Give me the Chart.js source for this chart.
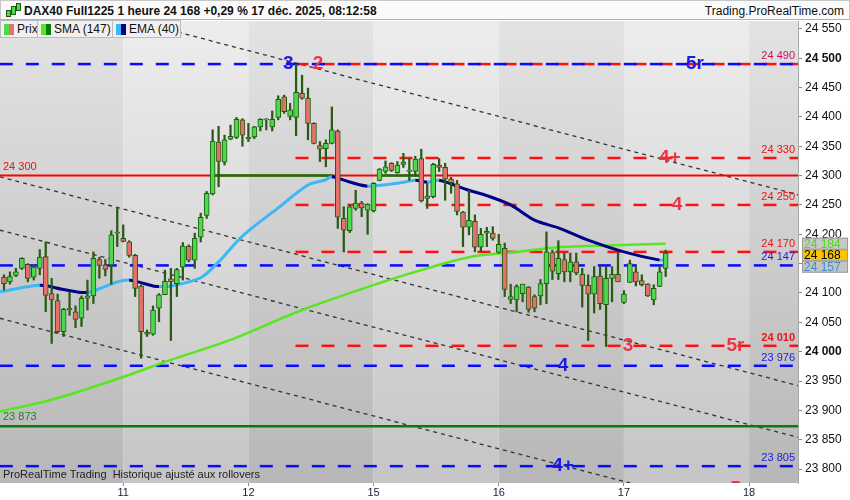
<!DOCTYPE html>
<html>
<head>
<meta charset="utf-8">
<script src="https://cdn.jsdelivr.net/npm/chart.js@4.4.1/dist/chart.umd.min.js"></script>
<style>
  body { margin: 0; background: #fff; font-family: "Liberation Sans", Arial, sans-serif; }
  #wrap { position: relative; width: 850px; height: 500px; overflow: hidden; }
  #c { position: absolute; left: 0; top: 0; }
  .hdr { position: absolute; left: 0; top: 0; width: 848px; height: 20px; background: #fafafa;
         border: 1px solid #c8c8c8; border-bottom-color: #b0b0b0; box-sizing: border-box; width: 850px; }
  .hdr .title { position: absolute; left: 23px; top: 3px; font-size: 12px; font-weight: bold; color: #111; }
  .hdr .site { position: absolute; right: 5px; top: 3px; font-size: 12px; color: #111; }
  .ic { position: absolute; width: 3px; background: #4cd94c; border: 1px solid #1f5c12; }
  .leg { position: absolute; top: 20px; height: 18px; box-sizing: border-box; background: #f0f0f0;
         border: 1px solid #bcbcbc; font-size: 12px; color: #111; line-height: 16px; padding-left: 16px; }
  .sw { position: absolute; left: 3px; top: 3px; width: 5px; height: 11px; }
  .sw2 { position: absolute; left: 8px; top: 3px; width: 5px; height: 11px; }
  .foot { position: absolute; left: 3px; top: 468px; font-size: 11px; color: #222; white-space: pre; }
</style>
</head>
<body>
<div id="wrap">
  <canvas id="c" width="850" height="500"></canvas>
  <div class="hdr">
    <span class="ic" style="left:5px;top:9px;height:5px"></span>
    <span class="ic" style="left:10px;top:5px;height:7px"></span>
    <span class="ic" style="left:15px;top:2px;height:6px"></span>
    <span class="title">DAX40 Full1225 1 heure 24 168 +0,29 % 17 déc. 2025, 08:12:58</span>
    <span class="site">Trading.ProRealTime.com</span>
  </div>
  <div class="leg" style="left:0;width:38px"><span class="sw" style="background:#4cd94c"></span><span class="sw2" style="background:#e8706a"></span>Prix</div>
  <div class="leg" style="left:37px;width:76px"><span class="sw" style="background:#58e620"></span><span class="sw2" style="background:#0a7a0a"></span>SMA (147)</div>
  <div class="leg" style="left:112px;width:69px"><span class="sw" style="background:#3cb8f5"></span><span class="sw2" style="background:#000088"></span>EMA (40)</div>
  <div class="foot">ProRealTime Trading  Historique ajusté aux rollovers</div>
</div>
<script>
// hourly candles, 10 -> 17 dec (index 0 = first visible candle)
const opens = [24127,24119,24130,24142,24149,24127,24142,24162,24099,24087,24034,24074,24068,24057,24091,24095,24157,24148,24148,24202,
  24193,24187,24164,24112,24033,24030,24074,24097,24124,24116,24144,24180,24156,24195,24232,24269,24357,24323,24362,24365,24395,
  24363,24366,24383,24395,24383,24399,24434,24401,24399,24440,24432,24389,24351,24346,24355,24376,24227,24206,24244,24253,24241,
  24240,24292,24307,24321,24305,24319,24307,24307,24329,24261,24264,24318,24314,24294,24286,24238,24212,24222,24178,24202,24202,
  24169,24176,24089,24088,24099,24110,24094,24095,24116,24169,24133,24157,24136,24153,24132,24113,24098,24129,24080,24125,24132,
  24084,24118,24136,24121,24115,24088,24111,24142];
const highs = [24131,24136,24142,24160,24150,24148,24174,24187,24125,24098,24074,24102,24078,24095,24122,24170,24161,24157,24206,24246,
  24216,24189,24166,24114,24037,24078,24099,24139,24142,24142,24186,24182,24202,24236,24273,24378,24384,24369,24386,24399,24397,
  24389,24384,24397,24397,24410,24436,24437,24423,24490,24471,24449,24390,24358,24361,24417,24378,24247,24250,24275,24256,24252,
  24288,24312,24325,24322,24324,24338,24329,24333,24345,24287,24321,24329,24321,24297,24292,24239,24275,24233,24210,24212,24213,
  24200,24185,24115,24114,24115,24111,24097,24123,24204,24173,24189,24168,24168,24168,24142,24131,24145,24145,24145,24145,24168,
  24104,24156,24145,24131,24116,24114,24145,24173];
const lows = [24105,24115,24128,24140,24119,24122,24131,24068,24014,24032,24026,24062,24041,24043,24071,24082,24125,24129,24115,24179,
  24187,24161,24094,23989,24026,24028,24051,24097,24019,24094,24122,24153,24142,24187,24227,24267,24281,24318,24361,24363,24350,
  24358,24363,24376,24378,24376,24395,24406,24395,24368,24430,24361,24354,24324,24315,24354,24210,24170,24203,24241,24230,24200,
  24238,24291,24304,24307,24304,24314,24292,24299,24255,24244,24262,24307,24258,24270,24233,24179,24199,24170,24171,24179,24190,
  24168,24094,24082,24068,24085,24067,24068,24080,24082,24123,24123,24119,24119,24131,24076,24019,24066,24072,24009,24085,24119,
  24082,24118,24112,24112,24094,24080,24111,24128];
const closes = [24116,24128,24136,24159,24125,24144,24161,24096,24088,24034,24072,24071,24055,24091,24095,24159,24147,24140,24199,24204,
  24188,24164,24108,24034,24030,24071,24097,24120,24119,24140,24180,24156,24193,24229,24270,24359,24324,24361,24367,24396,24369,
  24365,24383,24396,24396,24396,24430,24409,24412,24442,24432,24389,24355,24345,24355,24378,24229,24207,24247,24253,24245,24251,
  24287,24311,24315,24309,24318,24323,24309,24328,24257,24265,24319,24314,24294,24288,24239,24212,24224,24178,24200,24205,24193,
  24183,24106,24094,24111,24115,24072,24074,24116,24170,24137,24159,24136,24153,24134,24113,24098,24128,24082,24125,24132,24119,
  24098,24150,24119,24114,24095,24108,24136,24168];

// x axis: first candle of each day
const dayTicks = [20, 41, 62, 83, 104, 125];
const dayLabels = ['11', '12', '15', '16', '17', '18'];
const bandEdges = [-5, 20, 41, 62, 83, 104, 125, 140];
const yTicks = [23800, 23850, 23900, 23950, 24000, 24050, 24100, 24150, 24200, 24250, 24300, 24350, 24400, 24450, 24500, 24550];

// indicators
const smaX = [-0.7, 8, 18, 28, 38, 50, 63, 70, 78, 84, 86, 93, 98, 105, 111];
const smaY = [23898, 23918, 23950, 23986, 24020, 24071, 24117, 24139, 24161, 24168, 24170, 24178, 24180, 24182, 24184];
const emaX = [-0.7, 6, 10, 14, 19, 21, 25, 26, 28, 33, 36, 40, 46, 51, 54, 55, 58, 61, 66, 69, 71, 73, 78, 81, 85, 89, 93, 98, 104, 110, 111];
const emaY = [24102, 24113, 24106, 24101, 24119, 24122, 24112, 24111, 24112, 24126, 24153, 24197, 24245, 24284, 24293, 24298, 24289, 24282,
  24287, 24292, 24289, 24292, 24275, 24266, 24250, 24224, 24211, 24190, 24170, 24156, 24157];

// drawn levels
const blueLevels = [24490, 24147, 23976, 23805];
const redLevels = [24490, 24330, 24250, 24170, 24010];
const redLevelStart = 48.9;
const redSolid = 24300;
const greenSolid = 23873;
const greenSegStart = [34.7, 62.8];
const greenSegEnd = [55.2, 69.8];
const trendX = [-0.7, 133.3];
const trendStart = [24624, 24298, 24207, 24057];
const trendEnd = [24267, 23942, 23854, 23701];

const waveText = ['3', '2', '5r', '4+', '4', '3', '5r', '4', '4+', '5'];
const waveX = [47.7, 52.7, 115.9, 111.7, 112.9, 104.7, 122.7, 93.8, 93.8, 122.7];
const waveY = [24490, 24490, 24490, 24330, 24250, 24010, 24010, 23976, 23805, 23767];
const waveBlue = [true, false, true, false, false, false, false, true, true, false];

const rightLabels = [24490, 24330, 24250, 24170, 24147, 24010, 23976, 23805];
const rightColors = ['#cc1060', '#ee1111', '#ee1111', '#ee1111', '#1a1ae6', '#ee1111', '#1a1ae6', '#1a1ae6'];
const leftLabels = [24300, 23873];
const leftColors = ['#ee1111', '#1a8a1a'];

const lastValues = [24184, 24168, 24157];
const lastFill = ['#c8c8c8', '#f7c600', '#c4c4c4'];
const lastText = ['#44e011', '#000', '#3a8fd0'];

const fmt = v => String(Math.round(v)).replace(/\B(?=(\d{3})+$)/, ' ');
const FONT = '"Liberation Sans", Arial, sans-serif';
Chart.defaults.font.family = FONT;

const idx = opens.map((_, i) => i);
const datasets = [];

datasets.push({
  type: 'bar', label: 'body', order: 0, grouped: false,
  data: idx.map(i => ({ x: i, y: [opens[i], closes[i]] })),
  backgroundColor: idx.map(i => closes[i] >= opens[i] ? '#4cd94c' : '#e8706a'),
  borderColor: '#1f5c12', borderWidth: 1, borderSkipped: false,
  barThickness: 5, minBarLength: 1
});
datasets.push({
  type: 'bar', label: 'wick', order: 1, grouped: false,
  data: idx.map(i => ({ x: i, y: [lows[i], highs[i]] })),
  backgroundColor: '#2a5a14', barThickness: 1.6
});
datasets.push({
  type: 'line', label: 'EMA (40)', order: 2,
  data: emaX.map((x, i) => ({ x, y: emaY[i] })),
  borderWidth: 3, pointRadius: 0, tension: 0.3,
  borderColor: '#3cb8f5',
  segment: { borderColor: c => c.p1.parsed.y < c.p0.parsed.y ? '#000088' : '#3cb8f5' }
});
datasets.push({
  type: 'line', label: 'SMA (147)', order: 3,
  data: smaX.map((x, i) => ({ x, y: smaY[i] })),
  borderColor: '#58e620', borderWidth: 2.5, pointRadius: 0, tension: 0.3
});
blueLevels.forEach(v => datasets.push({
  type: 'line', order: 5, data: [{ x: trendX[0], y: v }, { x: trendX[1], y: v }],
  borderColor: '#0a0aff', borderWidth: 2.5, borderDash: [13, 13], pointRadius: 0
}));
redLevels.forEach(v => datasets.push({
  type: 'line', order: 5, data: [{ x: redLevelStart, y: v }, { x: trendX[1], y: v }],
  borderColor: '#ff1010', borderWidth: 2.5, borderDash: [13, 13], pointRadius: 0
}));
datasets.push({
  type: 'line', order: 5, data: [{ x: trendX[0], y: redSolid }, { x: trendX[1], y: redSolid }],
  borderColor: '#ff0000', borderWidth: 2, pointRadius: 0
});
greenSegStart.forEach((s, i) => datasets.push({
  type: 'line', order: 4, data: [{ x: s, y: redSolid }, { x: greenSegEnd[i], y: redSolid }],
  borderColor: '#0a7a0a', borderWidth: 2.5, pointRadius: 0
}));
datasets.push({
  type: 'line', order: 5, data: [{ x: trendX[0], y: greenSolid }, { x: trendX[1], y: greenSolid }],
  borderColor: '#0a7a0a', borderWidth: 2.5, pointRadius: 0
});
trendStart.forEach((s, i) => datasets.push({
  type: 'line', order: 6, data: [{ x: trendX[0], y: s }, { x: trendX[1], y: trendEnd[i] }],
  borderColor: '#333', borderWidth: 1.3, borderDash: [4, 4], pointRadius: 0
}));

const bands = {
  id: 'bands',
  beforeDraw(chart) {
    const { ctx, chartArea: a, scales: { x } } = chart;
    ctx.save();
    for (let k = 0; k < bandEdges.length - 1; k++) {
      const x0 = Math.max(a.left, x.getPixelForValue(bandEdges[k]));
      const x1 = Math.min(a.right, x.getPixelForValue(bandEdges[k + 1]));
      if (x1 <= x0) continue;
      const g = ctx.createLinearGradient(0, a.top, 0, a.bottom);
      if (k % 2 === 0) { g.addColorStop(0, '#e3e3e3'); g.addColorStop(1, '#b7b7b7'); }
      else { g.addColorStop(0, '#ededed'); g.addColorStop(1, '#c5c5c5'); }
      ctx.fillStyle = g;
      ctx.fillRect(x0, a.top, x1 - x0, a.bottom - a.top);
    }
    ctx.restore();
  }
};

const notes = {
  id: 'notes',
  afterDatasetsDraw(chart) {
    const { ctx, chartArea: a, scales: { x, y } } = chart;
    ctx.save();
    ctx.beginPath();
    ctx.rect(a.left, a.top, a.right - a.left, a.bottom - a.top);
    ctx.clip();
    ctx.textAlign = 'center';
    ctx.textBaseline = 'middle';
    ctx.font = 'bold 19px ' + FONT;
    waveText.forEach((t, i) => {
      ctx.fillStyle = waveBlue[i] ? '#1a1ae6' : '#ee3344';
      ctx.fillText(t, x.getPixelForValue(waveX[i]), y.getPixelForValue(waveY[i]));
    });
    ctx.textAlign = 'right';
    rightLabels.forEach((v, i) => {
      ctx.font = (v === 24010 ? 'bold ' : '') + '11px ' + FONT;
      ctx.fillStyle = rightColors[i];
      ctx.fillText(fmt(v), a.right - 3, y.getPixelForValue(v) - 8);
    });
    ctx.textAlign = 'left';
    ctx.font = '11px ' + FONT;
    leftLabels.forEach((v, i) => {
      ctx.fillStyle = leftColors[i];
      ctx.fillText(fmt(v), a.left + 3, y.getPixelForValue(v) - 9);
    });
    ctx.restore();
  },
  afterDraw(chart) {
    const { ctx, chartArea: a, scales: { y } } = chart;
    ctx.save();
    ctx.font = '12px ' + FONT;
    ctx.textBaseline = 'middle';
    ctx.textAlign = 'left';
    let prev = -100;
    lastValues.forEach((v, i) => {
      let py = Math.max(y.getPixelForValue(v), prev + 11.5);
      prev = py;
      ctx.fillStyle = lastFill[i];
      ctx.fillRect(a.right + 4, py - 6, 46, 12);
      ctx.strokeStyle = '#9a9a9a';
      ctx.lineWidth = 1;
      ctx.strokeRect(a.right + 4.5, py - 5.5, 45, 11);
      ctx.fillStyle = lastText[i];
      ctx.fillText(fmt(v), a.right + 6, py + 0.5);
    });
    ctx.restore();
  }
};

new Chart(document.getElementById('c'), {
  type: 'line',
  data: { datasets },
  options: {
    responsive: false,
    animation: false,
    layout: { padding: { top: 21, left: 0, right: 0, bottom: 0 } },
    plugins: { legend: { display: false }, tooltip: { enabled: false } },
    scales: {
      x: {
        type: 'linear', min: -0.67, max: 133.2, offset: false,
        grid: { offset: false, drawOnChartArea: false, color: '#8a8a8a', tickLength: 3 },
        border: { display: false },
        afterBuildTicks: axis => { axis.ticks = dayTicks.map(v => ({ value: v })); },
        afterFit: s => { s.height = 17; },
        ticks: {
          autoSkip: false, maxRotation: 0, padding: 0,
          color: '#1a1a3a', font: { size: 11 },
          callback: v => dayLabels[dayTicks.indexOf(v)]
        }
      },
      y: {
        type: 'linear', position: 'right', min: 23776.3, max: 24563.4,
        grid: { drawOnChartArea: false, color: '#8a8a8a', tickLength: 4 },
        border: { display: true, color: '#a8a8a8' },
        afterBuildTicks: axis => { axis.ticks = yTicks.map(v => ({ value: v })); },
        afterFit: s => { s.width = 52; },
        ticks: {
          crossAlign: 'near', padding: 3, color: '#111',
          font: c => ({ size: 12, weight: c.tick && c.tick.value % 500 === 0 ? 'bold' : 'normal' }),
          callback: v => fmt(v)
        }
      }
    }
  },
  plugins: [bands, notes]
});
</script>
</body>
</html>
